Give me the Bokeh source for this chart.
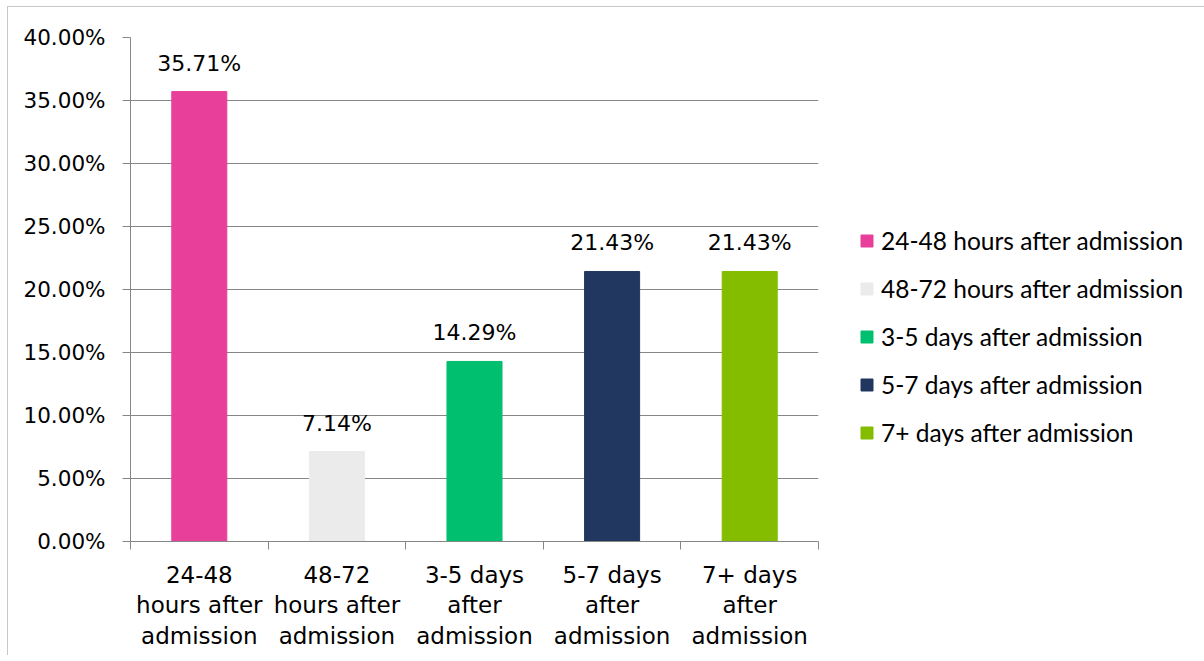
from bokeh.plotting import figure
from bokeh.models import ColumnDataSource, FixedTicker, PrintfTickFormatter, Legend, LegendItem
from bokeh.core.properties import value
from bokeh.embed import file_html
from bokeh.resources import INLINE

categories = ["24-48 hours after admission", "48-72 hours after admission",
              "3-5 days after admission", "5-7 days after admission",
              "7+ days after admission"]
tick_labels = ["24-48\nhours after\nadmission", "48-72\nhours after\nadmission",
               "3-5 days\nafter\nadmission", "5-7 days\nafter\nadmission",
               "7+ days\nafter\nadmission"]
values = [35.71, 7.14, 14.29, 21.43, 21.43]
colors = ["#E8409A", "#EBEBEB", "#00BF6F", "#21375F", "#84BD00"]
y_ticks = [0, 5, 10, 15, 20, 25, 30, 35, 40]

FONT = "DejaVu Sans"
xs = [i + 0.5 for i in range(len(categories))]
src = ColumnDataSource(dict(x=xs, top=values, color=colors, legend=categories,
                            label=["%.2f%%" % v for v in values]))

p = figure(width=1197, height=655, frame_width=688, frame_height=504,
           x_range=(0, len(categories)), y_range=(0, 40),
           output_backend="svg", toolbar_location=None,
           min_border_left=122, min_border_top=30, min_border_right=387, min_border_bottom=114,
           margin=(6, 0, 0, 7))
p.styles = {"border-top": "1px solid #c8c8c8", "border-left": "1px solid #c8c8c8"}
p.outline_line_color = None
p.background_fill_color = "white"
p.border_fill_color = "white"

bars = []
for i in range(len(categories)):
    r = p.vbar(x=xs[i], top=values[i], width=0.4, color=colors[i])
    bars.append(r)
p.text(x="x", y="top", text="label", source=src, text_align="center",
       text_baseline="bottom", y_offset=-16, text_font=value(FONT),
       text_font_size="22px", text_color="#000000")

# y axis
p.yaxis.ticker = FixedTicker(ticks=y_ticks)
p.yaxis.formatter = PrintfTickFormatter(format="%.2f%%")
p.yaxis.axis_line_color = "#868686"
p.yaxis.major_tick_line_color = "#868686"
p.yaxis.major_tick_in = 0
p.yaxis.major_tick_out = 8
p.yaxis.minor_tick_line_color = None
p.yaxis.major_label_text_font = FONT
p.yaxis.major_label_text_font_size = "21.5px"
p.yaxis.major_label_text_color = "#000000"
p.yaxis.major_label_standoff = 17

# x axis: labels at centres, ticks at boundaries
p.xaxis.ticker = FixedTicker(ticks=xs, minor_ticks=list(range(len(categories) + 1)))
p.xaxis.major_label_overrides = {x: t for x, t in zip(xs, tick_labels)}
p.xaxis.axis_line_color = "#868686"
p.xaxis.major_tick_line_color = None
p.xaxis.major_tick_in = 0
p.xaxis.major_tick_out = 0
p.xaxis.minor_tick_line_color = "#868686"
p.xaxis.minor_tick_in = 0
p.xaxis.minor_tick_out = 8
p.xaxis.major_label_text_font = FONT
p.xaxis.major_label_text_font_size = "23px"
p.xaxis.major_label_text_line_height = 1.18
p.xaxis.major_label_text_color = "#000000"
p.xaxis.major_label_standoff = 12

p.xgrid.grid_line_color = None
p.ygrid.ticker = FixedTicker(ticks=y_ticks)
p.ygrid.grid_line_color = "#868686"

lg = Legend(items=[LegendItem(label=c, renderers=[r]) for c, r in zip(categories, bars)],
            location=(41, 94))
lg.border_line_color = None
lg.background_fill_alpha = 0
lg.padding = 0
lg.margin = 0
lg.glyph_width = 15
lg.glyph_height = 15
lg.label_standoff = 7
lg.label_text_font = "Lato"
lg.label_text_font_size = "24.5px"
lg.label_text_color = "#000000"
lg.spacing = 19
p.add_layout(lg, "right")

open("out.html", "w").write(file_html(p, INLINE))
